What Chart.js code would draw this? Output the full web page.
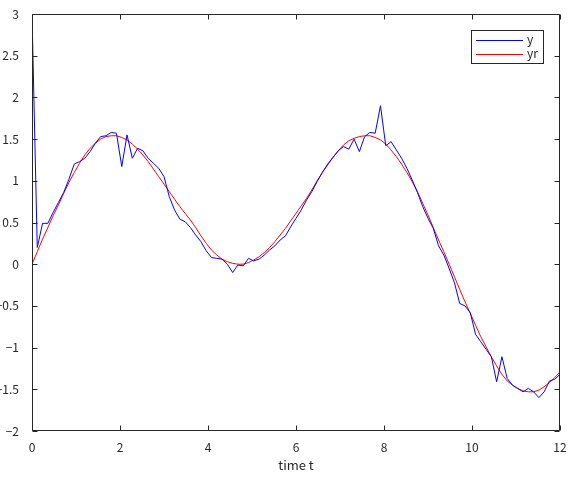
<!DOCTYPE html>
<html>
<head>
<meta charset="utf-8">
<script src="https://cdn.jsdelivr.net/npm/chart.js@4/dist/chart.umd.min.js"></script>
<style>
  html, body { margin: 0; padding: 0; background: #ffffff; }
  #wrap { width: 570px; height: 478px; }
</style>
</head>
<body>
<div id="wrap"><canvas id="c" width="570" height="478"></canvas></div>
<script>
// ---- data ----
const timeT = [0,0.12,0.24,0.36,0.48,0.6,0.72,0.84,0.96,1.08,1.2,1.32,1.44,1.56,1.68,1.8,1.92,2.04,2.16,2.28,
  2.4,2.52,2.64,2.76,2.88,3.0,3.12,3.24,3.36,3.48,3.6,3.72,3.84,3.96,4.08,4.2,4.32,4.44,4.56,4.68,
  4.8,4.92,5.04,5.16,5.28,5.4,5.52,5.64,5.76,5.88,6.0,6.12,6.24,6.36,6.48,6.6,6.72,6.84,6.96,7.08,
  7.2,7.32,7.44,7.56,7.68,7.8,7.92,8.04,8.16,8.28,8.4,8.52,8.64,8.76,8.88,9.0,9.12,9.24,9.36,9.48,
  9.6,9.72,9.84,9.96,10.08,10.2,10.32,10.44,10.56,10.68,10.8,10.92,11.04,11.16,11.28,11.4,11.52,11.64,11.76,11.88,12.0];

const yMeasured = [3.0,0.20,0.49,0.49,0.62,0.74,0.86,1.02,1.20,1.23,1.27,1.35,1.45,1.53,1.54,1.58,1.57,1.17,1.55,1.27,
  1.39,1.36,1.27,1.21,1.15,1.05,0.81,0.65,0.54,0.51,0.44,0.35,0.27,0.16,0.08,0.07,0.06,0.00,-0.10,-0.01,
  -0.02,0.07,0.04,0.06,0.11,0.17,0.22,0.29,0.34,0.45,0.55,0.65,0.77,0.87,0.99,1.10,1.20,1.28,1.36,1.41,
  1.38,1.50,1.35,1.53,1.58,1.57,1.90,1.42,1.47,1.37,1.27,1.15,1.01,0.86,0.69,0.55,0.43,0.22,0.11,-0.05,
  -0.22,-0.47,-0.50,-0.58,-0.84,-0.93,-1.02,-1.11,-1.41,-1.11,-1.37,-1.45,-1.49,-1.53,-1.49,-1.53,-1.60,-1.53,-1.40,-1.38,-1.32];

const yReference = [0,0.15,0.30,0.44,0.58,0.71,0.85,0.98,1.10,1.21,1.31,1.39,1.45,1.50,1.53,1.54,1.54,1.52,1.49,1.44,
  1.38,1.31,1.23,1.14,1.05,0.96,0.87,0.78,0.69,0.61,0.53,0.44,0.34,0.25,0.17,0.11,0.06,0.03,0.01,0.00,
  0.00,0.02,0.05,0.09,0.14,0.20,0.27,0.35,0.43,0.52,0.61,0.70,0.79,0.89,1.00,1.10,1.19,1.28,1.36,1.43,
  1.48,1.51,1.53,1.54,1.54,1.52,1.49,1.44,1.37,1.29,1.20,1.10,0.99,0.87,0.73,0.59,0.44,0.29,0.15,0.00,
  -0.15,-0.30,-0.45,-0.59,-0.73,-0.87,-0.99,-1.11,-1.22,-1.32,-1.40,-1.45,-1.49,-1.52,-1.53,-1.53,-1.51,-1.47,-1.42,-1.36,-1.29];

const seriesNames = ['y', 'yr'];
const xTickValues = [0, 2, 4, 6, 8, 10, 12];
const yTickValues = [-2, -1.5, -1, -0.5, 0, 0.5, 1, 1.5, 2, 2.5, 3];
const xAxisTitle = 'time t';

// ---- chart ----
const FONT = '"Noto Sans CJK JP", "Noto Sans", sans-serif';
const AXIS_COLOR = '#262626';

function fmt(v) {
  const s = String(v);
  return v < 0 ? '\u2212' + s.slice(1) : s;
}

const boxTicksPlugin = {
  id: 'boxTicks',
  afterDatasetsDraw(chart) {
    const ctx = chart.ctx;
    const a = chart.chartArea;
    const xs = chart.scales.x, ys = chart.scales.y;
    const L = Math.round(a.left) + 0.5, R = Math.round(a.right) - 0.5;
    const T = Math.round(a.top) + 0.5, B = Math.round(a.bottom) - 0.5;
    ctx.save();
    ctx.strokeStyle = AXIS_COLOR;
    ctx.lineWidth = 1;
    ctx.beginPath();
    ctx.rect(L, T, R - L, B - T);
    ctx.stroke();
    const tl = 5;
    ctx.beginPath();
    xTickValues.forEach(v => {
      const px = Math.round(xs.getPixelForValue(v)) + 0.5;
      ctx.moveTo(px, B); ctx.lineTo(px, B - tl);
      ctx.moveTo(px, T); ctx.lineTo(px, T + tl);
    });
    yTickValues.forEach(v => {
      const py = Math.round(ys.getPixelForValue(v)) + 0.5;
      ctx.moveTo(L, py); ctx.lineTo(L + tl, py);
      ctx.moveTo(R, py); ctx.lineTo(R - tl, py);
    });
    ctx.stroke();

    // legend box (top right inside plot)
    const lx = 471.5, ly = 30.5, lw = 72, lh = 33;
    ctx.fillStyle = '#ffffff';
    ctx.fillRect(lx, ly, lw, lh);
    ctx.strokeStyle = AXIS_COLOR;
    ctx.strokeRect(lx, ly, lw, lh);
    ctx.font = '12px ' + FONT;
    ctx.textBaseline = 'middle';
    ctx.textAlign = 'left';
    chart.data.datasets.forEach((ds, i) => {
      const yy = ly + 9 + i * 14;
      ctx.strokeStyle = ds.borderColor;
      ctx.beginPath();
      ctx.moveTo(476, Math.round(yy) + 0.5);
      ctx.lineTo(523, Math.round(yy) + 0.5);
      ctx.stroke();
      ctx.fillStyle = AXIS_COLOR;
      ctx.fillText(ds.label, 527, yy);
    });
    ctx.restore();
  }
};

new Chart(document.getElementById('c'), {
  type: 'line',
  data: {
    datasets: [
      {
        label: seriesNames[0],
        data: timeT.map((t, i) => ({ x: t, y: yMeasured[i] })),
        borderColor: '#0000ff',
        borderWidth: 1,
        pointRadius: 0,
        tension: 0,
        fill: false
      },
      {
        label: seriesNames[1],
        data: timeT.map((t, i) => ({ x: t, y: yReference[i] })),
        borderColor: '#ff0000',
        borderWidth: 1,
        pointRadius: 0,
        tension: 0,
        fill: false
      }
    ]
  },
  options: {
    responsive: false,
    animation: false,
    devicePixelRatio: 1,
    layout: { padding: { left: 0, right: 10, top: 14, bottom: 0 } },
    plugins: { legend: { display: false }, tooltip: { enabled: false } },
    scales: {
      x: {
        type: 'linear',
        min: 0, max: 12,
        afterBuildTicks(scale) { scale.ticks = xTickValues.map(v => ({ value: v })); },
        afterFit(scale) { scale.height = 47; scale.paddingRight = 0; scale.paddingLeft = 0; },
        grid: { display: false },
        border: { display: false },
        ticks: {
          padding: 1,
          color: AXIS_COLOR,
          font: { family: FONT, size: 12 },
          maxRotation: 0,
          autoSkip: false,
          callback: v => fmt(v)
        },
        title: {
          display: true,
          text: xAxisTitle,
          color: AXIS_COLOR,
          font: { family: FONT, size: 13 },
          padding: { top: 2, bottom: 5 }
        }
      },
      y: {
        type: 'linear',
        min: -2, max: 3,
        afterBuildTicks(scale) { scale.ticks = yTickValues.map(v => ({ value: v })); },
        afterFit(scale) { scale.width = 32; scale.paddingTop = 0; scale.paddingBottom = 0; },
        grid: { display: false },
        border: { display: false },
        ticks: {
          padding: 5,
          color: AXIS_COLOR,
          font: { family: FONT, size: 12 },
          autoSkip: false,
          callback: v => fmt(v)
        }
      }
    }
  },
  plugins: [boxTicksPlugin]
});
</script>
</body>
</html>
